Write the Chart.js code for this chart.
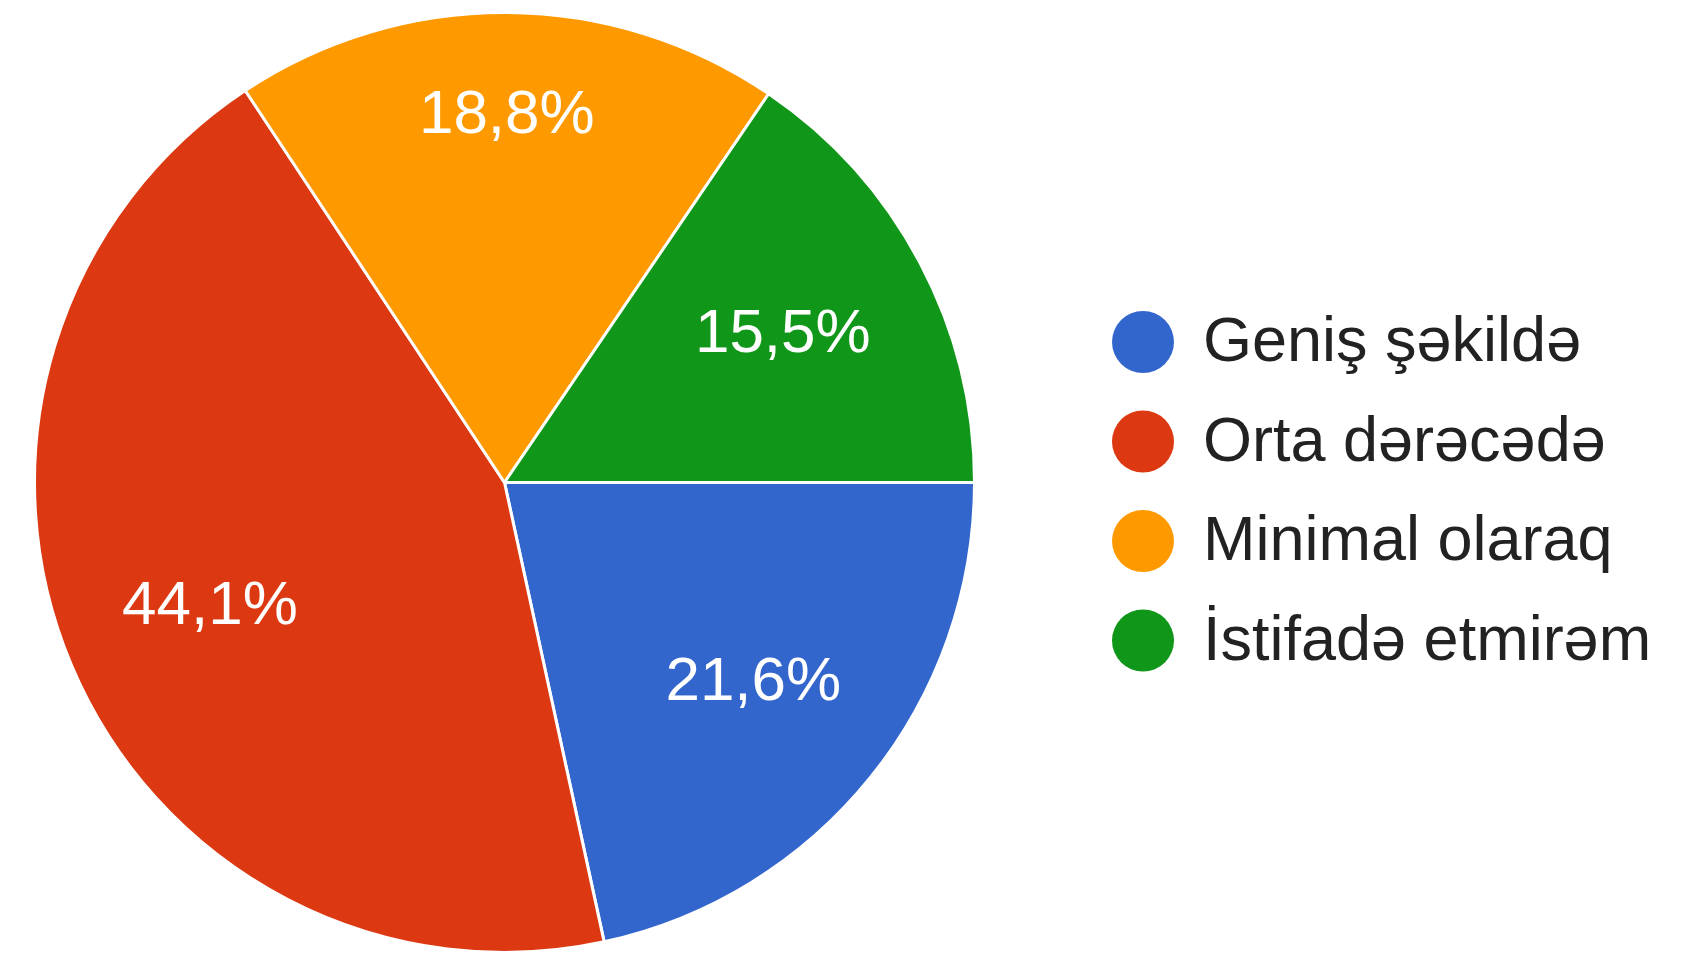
<!DOCTYPE html>
<html>
<head>
<meta charset="utf-8">
<script src="https://cdn.jsdelivr.net/npm/chart.js@4"></script>
<style>
  html, body { margin: 0; padding: 0; background: #fff; }
  canvas { display: block; }
</style>
</head>
<body>
<canvas id="pie-chart" width="1695" height="958"></canvas>
<script>
const categories = ["Geniş şəkildə", "Orta dərəcədə", "Minimal olaraq", "İstifadə etmirəm"];
const percentages = [21.6, 44.1, 18.8, 15.5];
const sliceColors = ["#3366cc", "#dc3912", "#ff9900", "#109618"];

const FONT = "'Liberation Sans', Arial, sans-serif";

// white percentage labels inside slices
const sliceLabels = {
  id: "sliceLabels",
  afterDatasetsDraw(chart, args, opts) {
    const ctx = chart.ctx;
    const meta = chart.getDatasetMeta(0);
    ctx.save();
    ctx.font = opts.size + "px " + FONT;
    ctx.fillStyle = "#fff";
    ctx.textAlign = "center";
    ctx.textBaseline = "middle";
    meta.data.forEach((arc, i) => {
      const p = arc.getProps(["x", "y", "startAngle", "endAngle", "outerRadius"], true);
      const mid = (p.startAngle + p.endAngle) / 2;
      const r = p.outerRadius * opts.radius[i];
      const text = percentages[i].toFixed(1).replace(".", ",") + "%";
      ctx.fillText(text, p.x + Math.cos(mid) * r, p.y + Math.sin(mid) * r);
    });
    ctx.restore();
  }
};

// legend with round markers on the right
const sideLegend = {
  id: "sideLegend",
  afterDraw(chart, args, opts) {
    const ctx = chart.ctx;
    ctx.save();
    ctx.font = opts.size + "px " + FONT;
    ctx.textBaseline = "middle";
    ctx.textAlign = "left";
    chart.data.labels.forEach((label, i) => {
      const y = opts.top + i * opts.step;
      ctx.beginPath();
      ctx.arc(opts.x, y, opts.dot, 0, Math.PI * 2);
      ctx.fillStyle = sliceColors[i];
      ctx.fill();
      ctx.fillStyle = "#222";
      ctx.fillText(label, opts.x + opts.gap, y + 2);
    });
    ctx.restore();
  }
};

new Chart(document.getElementById("pie-chart").getContext("2d"), {
  type: "pie",
  data: {
    labels: categories,
    datasets: [{
      data: percentages,
      backgroundColor: sliceColors,
      borderColor: "#fff",
      borderWidth: 3
    }]
  },
  options: {
    responsive: false,
    devicePixelRatio: 1,
    animation: false,
    rotation: 90,
    layout: { padding: { left: 33, top: 11, right: 719, bottom: 4 } },
    plugins: {
      legend: { display: false },
      tooltip: { enabled: false },
      sliceLabels: { size: 62, radius: [0.68, 0.68, 0.78, 0.67] },
      sideLegend: { x: 1143, top: 342, step: 99.5, dot: 31, gap: 60, size: 63 }
    }
  },
  plugins: [sliceLabels, sideLegend]
});
</script>
</body>
</html>
